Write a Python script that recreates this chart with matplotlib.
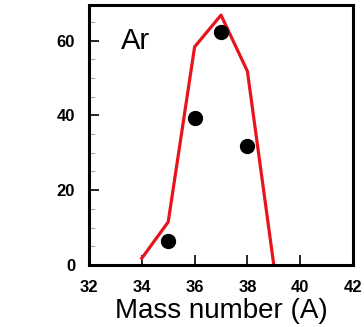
import matplotlib
matplotlib.use('Agg')
import matplotlib.pyplot as plt
from matplotlib.ticker import MultipleLocator

plt.rcParams['font.family'] = ['Liberation Sans', 'DejaVu Sans']

# measured yields
mass_data = [35, 36, 37, 38]
yield_data = [6.5, 39.2, 62.3, 31.8]

# model curve
mass_model = [34, 35, 36, 37, 38, 39]
yield_model = [1.8, 11.5, 58.3, 66.8, 51.8, 0]

fig = plt.figure(figsize=(3.64, 3.27), dpi=100)
ax = fig.add_axes([89/364, 62/327, 264/364, 260/327])

ax.plot(mass_model, yield_model, color='#e8141c', lw=2.3, clip_on=False, zorder=2)
ax.plot(mass_data, yield_data, 'o', color='black', ms=10, zorder=3)

ax.set_xlim(32, 42)
ax.set_ylim(0, 69.5)
ax.set_xticks([32, 34, 36, 38, 40, 42])
ax.set_yticks([0, 20, 40, 60])
ax.yaxis.set_minor_locator(MultipleLocator(5))
ax.tick_params(direction='in', which='both', labelsize=12, width=1.2)
ax.tick_params(which='major', length=7)
ax.tick_params(which='minor', length=4, color='#aaaaaa', width=0.8)
ax.tick_params(axis='x', pad=11)
ax.tick_params(axis='y', pad=10)
for lab in ax.get_xticklabels() + ax.get_yticklabels():
    lab.set_fontweight('bold')
for s in ax.spines.values():
    s.set_linewidth(2.2)

ax.text(0.12, 0.86, 'Ar', transform=ax.transAxes, fontsize=21, va='center', ha='left')
ax.set_xlabel('Mass number (A)', fontsize=20, labelpad=2)

fig.savefig('out.png', dpi=100)
